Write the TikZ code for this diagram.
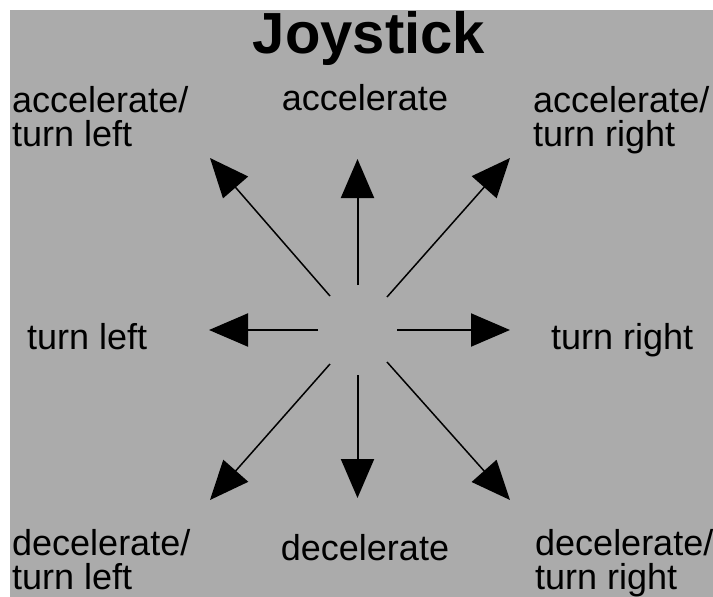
\documentclass[tikz,border=0pt]{standalone}
\usepackage{fontspec}
\setmainfont{Liberation Sans}
\usetikzlibrary{arrows.meta}

\begin{document}
\begin{tikzpicture}[x=1pt, y=-1pt]
    % Define colours
    \definecolor{borderColour}{HTML}{000000}
    \definecolor{fillColour}{HTML}{ABABAB}

    % Define styles
    \tikzset{
        label/.style={anchor=base west, inner sep=0pt, align=left,
            font=\fontsize{36}{34}\selectfont},
        joyArrow/.style={draw=borderColour, line width=2pt,
            -{Triangle[length=39pt, width=33pt]}},
        joyDiag/.style={joyArrow, line width=1.5pt}
    }

    % Draw background
    \useasboundingbox (0,0) rectangle (713,597);
    \fill[fillColour] (10,10) rectangle (713,597);

    % Title
    \node[anchor=base, inner sep=0pt, font=\bfseries\fontsize{58}{58}\selectfont] (title) at (369,53) {Joystick};

    % Labels, top row (base = baseline of last line)
    \node[label] (accLeft) at (12,146) {accelerate/\\turn left};
    \node[label, anchor=base] (acc) at (365,110) {accelerate};
    \node[label] (accRight) at (533,146) {accelerate/\\turn right};

    % Labels, middle row
    \node[label] (left) at (27,349) {turn left};
    \node[label] (right) at (551,349) {turn right};

    % Labels, bottom row
    \node[label] (decLeft) at (12,589) {decelerate/\\turn left};
    \node[label, anchor=base] (dec) at (365,560) {decelerate};
    \node[label] (decRight) at (535,589) {decelerate/\\turn right};

    % Define coordinates for arrows (start and tip)
    \foreach \name/\sx/\sy/\tx/\ty in {n/357.5/285/357.5/159, s/357.5/375/357.5/498,
            w/318/330/209/330, e/397/330/510/330} {
        \coordinate (\name S) at (\sx,\sy);
        \coordinate (\name T) at (\tx,\ty);
        \draw[joyArrow] (\name S) -- (\name T);
    }
    \foreach \name/\sx/\sy/\tx/\ty in {ne/387/297/510/158, nw/330/296/210/158,
            sw/330/364/210/500, se/387/362/510/500} {
        \coordinate (\name S) at (\sx,\sy);
        \coordinate (\name T) at (\tx,\ty);
        \draw[joyDiag] (\name S) -- (\name T);
    }

\end{tikzpicture}
\end{document}
